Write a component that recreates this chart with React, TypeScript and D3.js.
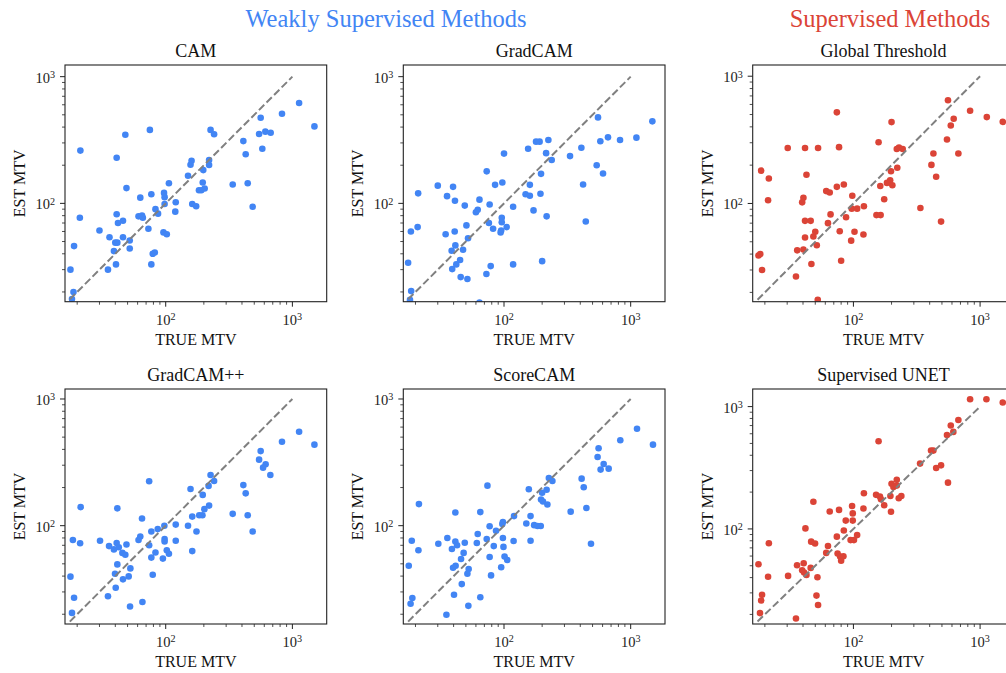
import { useEffect, useRef } from 'react';
import * as d3 from 'd3';

// titles
const groupTitles = ["Weakly Supervised Methods", "Supervised Methods"];
const panelTitles = ["CAM", "GradCAM", "Global Threshold", "GradCAM++", "ScoreCAM", "Supervised UNET"];
const xLabel = "TRUE MTV";
const yLabel = "EST MTV";
const majorTicks = [100, 1000];
const identityLine = [17.5, 1000];

// [true MTV, est MTV]
const camPoints = [
    [1130, 620], [1493, 405], [828, 510], [562, 474], [546, 353], [612, 368], [674, 361], [410, 310],
    [428, 244], [579, 270], [338, 141], [444, 144], [486, 94], [226, 380], [241, 351], [160, 217],
    [157, 202], [150, 165], [220, 220], [220, 201], [198, 183], [196, 146], [203, 131], [183, 127],
    [191, 127], [162, 99], [174, 95], [106, 144], [120, 102], [119, 86], [97, 121], [98, 112],
    [98, 99], [75, 380], [48, 348], [41, 229], [21.2, 261], [49, 132], [77, 118], [63, 111],
    [83, 90], [87, 83], [61, 79], [65, 80], [66, 77], [41, 82], [46, 73], [42, 70], [21, 77],
    [30, 61], [36, 54], [46, 54], [40, 49], [41.5, 49], [52, 51], [52, 44], [39, 42], [73, 63],
    [96, 59], [102, 57], [18.9, 46], [82, 41], [79, 40], [40.5, 33], [35, 30], [77, 33],
    [17.7, 30], [18.7, 20], [18.2, 17.6]
];

const gradcamPoints = [
    [1483, 444], [1110, 330], [824, 316], [662, 332], [552, 477], [576, 309], [539, 200], [605, 172],
    [408, 275], [332, 236], [421, 141], [442, 72], [224, 316], [191, 307], [179, 307], [155, 270],
    [215, 249], [238, 220], [196, 171], [160, 140], [148, 118], [160, 115], [194, 119], [171, 88],
    [217, 79], [200, 35], [118, 33], [100, 247], [97, 146], [85, 140], [73, 179], [118, 94],
    [77, 98], [64, 107], [62, 89], [60, 85], [96, 77], [96, 71], [76, 70], [105, 65], [82, 63],
    [95, 61], [94, 59], [49, 96], [41, 105], [35.5, 114], [39.6, 135], [30, 138], [21, 120],
    [20.8, 65], [18.4, 60], [34.6, 57], [40.8, 60], [50.5, 67], [52, 53], [41.3, 46.6], [38.6, 42.3],
    [47.5, 43], [42, 33], [45, 35.7], [39, 30.3], [45.5, 26.2], [51.4, 25.3], [72.6, 27.7],
    [78.5, 32], [17.5, 34], [18.5, 20.3], [18.1, 17.3], [64, 16.5]
];

const globalThresholdPoints = [
    [1510, 438], [1130, 477], [834, 535], [558, 647], [619, 463], [587, 410], [548, 318], [674, 247],
    [428, 247], [413, 201], [450, 162], [338, 92], [492, 72], [200, 436], [158, 303], [229, 275],
    [220, 268], [245, 268], [198, 179], [222, 191], [195, 152], [184, 145], [203, 139], [163, 137],
    [175, 108], [152, 81], [164, 81], [121, 95], [98, 115], [97, 91], [107, 91], [102, 60],
    [120, 57], [96, 51], [74, 520], [77, 277], [52.6, 273], [41.5, 273], [30.3, 273], [18.7, 181],
    [21.5, 157], [21.2, 106], [42.6, 168], [40.3, 111], [39.4, 102], [74, 135], [84, 141], [61, 125],
    [65, 122], [87.5, 78], [66, 82], [63, 70], [41.5, 73], [46, 73], [41.5, 54], [50, 60],
    [48.3, 55], [78, 60.5], [51.4, 47], [36, 42.8], [40.3, 43.4], [46.6, 33.4], [80, 35.5],
    [17.8, 39], [18.4, 40], [19, 30], [35.2, 26.7], [52.3, 17.5]
];

const gradcamPPPoints = [
    [1493, 436], [1130, 552], [828, 460], [562, 388], [546, 332], [615, 305], [587, 287], [670, 251],
    [410, 209], [428, 180], [338, 124], [444, 121], [486, 90], [226, 251], [241, 225], [218, 206],
    [196, 175], [157, 195], [220, 144], [202, 135], [162, 118], [184, 121], [195, 121], [150, 100],
    [175, 90], [162, 63], [120, 102], [120, 76], [97.6, 100], [98, 78.5], [98, 75], [102, 64],
    [106, 60], [95, 55], [83, 61.5], [86.5, 94], [77, 90], [74, 70], [77, 56], [79, 41], [74, 224],
    [65, 114], [63, 82], [61, 77], [41.5, 137], [21.3, 140], [18.5, 77], [21.1, 72.6], [30.3, 76],
    [35.7, 69], [41, 73], [39, 65], [42.6, 67.5], [49, 71], [45.5, 61], [48, 59], [41.5, 49.5],
    [39.8, 41.8], [52.6, 46], [51, 39.8], [46, 37.7], [40.3, 32.4], [35, 27.7], [52.3, 23],
    [65.5, 25], [17.7, 39.6], [18.9, 27], [18.2, 20.5]
];

const scorecamPoints = [
    [1500, 436], [1122, 583], [828, 472], [558, 408], [548, 348], [612, 307], [579, 277], [670, 282],
    [410, 235], [426, 201], [336, 129], [447, 138], [486, 72], [226, 238], [241, 225], [217, 192],
    [157, 194], [200, 182], [196, 161], [203, 155], [220, 147], [162, 119], [150, 104], [120, 119],
    [173, 101], [184, 99.4], [195, 99.4], [162, 76], [119, 75.7], [98, 107], [97, 103], [98, 80],
    [99, 68], [101, 57], [106, 53.6], [95, 47], [86.5, 91], [77, 99], [73, 78.5], [83, 69],
    [77, 56.6], [79, 40.5], [74, 207], [65, 128], [62, 86], [61, 73], [41.3, 127], [21.3, 148],
    [18.7, 76], [21.1, 64], [30.3, 72], [35.7, 80], [41.3, 75], [42.6, 70], [49, 73.4], [38.8, 65.5],
    [48, 61], [45.8, 54.6], [41.5, 48.3], [39.6, 46.6], [52.6, 45.5], [51.4, 41.8], [46.4, 34.6],
    [40.3, 28.5], [65, 27.2], [52.3, 23.3], [35.1, 19.8], [17.7, 48.3], [18.9, 26.9], [18.3, 24.2]
];

const unetPoints = [
    [834, 1148], [1122, 1148], [1510, 1079], [674, 778], [587, 700], [615, 621], [548, 586], [410, 437],
    [428, 437], [336, 342], [492, 331], [450, 315], [558, 239], [158, 521], [220, 252], [200, 234],
    [207, 220], [220, 226], [151, 190], [162, 184], [165, 175], [196, 186], [239, 186], [228, 178],
    [175, 156], [198, 138], [121, 196], [120, 147], [97.6, 154], [98.8, 134], [98.8, 117], [87, 117],
    [84, 97], [107, 89], [101, 81], [95, 81], [77, 143], [65, 139], [74, 86.5], [75, 63], [78.5, 59.4],
    [80, 55], [83.4, 59.8], [63, 72.6], [61, 63.7], [48.3, 167], [41.8, 101], [46.4, 78.7],
    [49.8, 75.9], [21.5, 76.3], [17.8, 51.4], [21.2, 40.6], [30.5, 41.3], [35.9, 50.5], [40.5, 52.4],
    [39.4, 45.9], [40.8, 44], [42.6, 42.1], [46, 48], [52, 40.3], [51.1, 28.5], [52.6, 23.9],
    [19, 28.9], [18.7, 26], [18.3, 20.5], [35.2, 18.5]
];

export default function App() {
    const ref = useRef<SVGSVGElement>(null);

    useEffect(() => {
        const svg = d3.select(ref.current);
        svg.selectAll("*").remove();

        const font = "'Liberation Serif', 'Times New Roman', serif";
        const blue = "#4285f4";
        const red = "#db4437";

        // layout
        const colLeft = [65, 403.3, 752.7];
        const rowTop = [65, 389];
        const axW = 261.7;
        const axH = [236.7, 235];
        const xDomain = [16.03, 1866];

        const panels = [
            { title: panelTitles[0], data: camPoints, color: blue, col: 0, row: 0, yDomain: [16.75, 1236] },
            { title: panelTitles[1], data: gradcamPoints, color: blue, col: 1, row: 0, yDomain: [16.75, 1236] },
            { title: panelTitles[2], data: globalThresholdPoints, color: red, col: 2, row: 0, yDomain: [16.9, 1225] },
            { title: panelTitles[3], data: gradcamPPPoints, color: blue, col: 0, row: 1, yDomain: [16.75, 1199] },
            { title: panelTitles[4], data: scorecamPoints, color: blue, col: 1, row: 1, yDomain: [16.75, 1199] },
            { title: panelTitles[5], data: unetPoints, color: red, col: 2, row: 1, yDomain: [16.7, 1393] }
        ];

        // group titles
        svg.append("text")
            .attr("x", 386).attr("y", 27)
            .attr("text-anchor", "middle")
            .attr("font-family", font).attr("font-size", 24.5)
            .attr("fill", blue)
            .text(groupTitles[0]);
        svg.append("text")
            .attr("x", 890).attr("y", 27)
            .attr("text-anchor", "middle")
            .attr("font-family", font).attr("font-size", 24.5)
            .attr("fill", red)
            .text(groupTitles[1]);

        const minorTicks = (domain) => {
            const out = [];
            for (let p = 1; p <= 3; p++) {
                for (let m = 2; m <= 9; m++) {
                    const v = m * Math.pow(10, p);
                    if (v >= domain[0] && v <= domain[1]) out.push(v);
                }
            }
            return out;
        };

        const tickLabel = (sel, v) => {
            sel.append("tspan").text("10");
            sel.append("tspan")
                .attr("dy", "-0.45em")
                .attr("font-size", "70%")
                .text(String(Math.round(Math.log10(v))));
        };

        panels.forEach((p, i) => {
            const left = colLeft[p.col];
            const top = rowTop[p.row];
            const h = axH[p.row];

            const x = d3.scaleLog().domain(xDomain).range([left, left + axW]);
            const y = d3.scaleLog().domain(p.yDomain).range([top + h, top]);

            const g = svg.append("g");

            const clipId = "clip-" + i;
            svg.append("clipPath").attr("id", clipId)
                .append("rect")
                .attr("x", left).attr("y", top)
                .attr("width", axW).attr("height", h);

            const plot = g.append("g").attr("clip-path", "url(#" + clipId + ")");

            // dots
            plot.selectAll("circle")
                .data(p.data).enter()
                .append("circle")
                .attr("cx", d => x(d[0]))
                .attr("cy", d => y(d[1]))
                .attr("r", 3.3)
                .attr("fill", p.color);

            // identity line
            plot.append("line")
                .attr("x1", x(identityLine[0])).attr("y1", y(identityLine[0]))
                .attr("x2", x(identityLine[1])).attr("y2", y(identityLine[1]))
                .attr("stroke", "#808080")
                .attr("stroke-width", 2)
                .attr("stroke-dasharray", "7.5,3.2");

            // ticks
            const axisColor = "#222";
            const bottom = top + h;
            majorTicks.filter(v => v >= xDomain[0] && v <= xDomain[1]).forEach(v => {
                g.append("line")
                    .attr("x1", x(v)).attr("x2", x(v))
                    .attr("y1", bottom).attr("y2", bottom + 5)
                    .attr("stroke", axisColor).attr("stroke-width", 1);
                const t = g.append("text")
                    .attr("x", x(v)).attr("y", bottom + 23)
                    .attr("text-anchor", "middle")
                    .attr("font-family", font).attr("font-size", 14.5)
                    .attr("fill", axisColor);
                tickLabel(t, v);
            });
            minorTicks(xDomain).forEach(v => {
                g.append("line")
                    .attr("x1", x(v)).attr("x2", x(v))
                    .attr("y1", bottom).attr("y2", bottom + 3)
                    .attr("stroke", axisColor).attr("stroke-width", 0.8);
            });
            majorTicks.filter(v => v >= p.yDomain[0] && v <= p.yDomain[1]).forEach(v => {
                g.append("line")
                    .attr("x1", left - 5).attr("x2", left)
                    .attr("y1", y(v)).attr("y2", y(v))
                    .attr("stroke", axisColor).attr("stroke-width", 1);
                const t = g.append("text")
                    .attr("x", left - 10).attr("y", y(v) + 6)
                    .attr("text-anchor", "end")
                    .attr("font-family", font).attr("font-size", 14.5)
                    .attr("fill", axisColor);
                tickLabel(t, v);
            });
            minorTicks(p.yDomain).forEach(v => {
                g.append("line")
                    .attr("x1", left - 3).attr("x2", left)
                    .attr("y1", y(v)).attr("y2", y(v))
                    .attr("stroke", axisColor).attr("stroke-width", 0.8);
            });

            // frame
            g.append("rect")
                .attr("x", left).attr("y", top)
                .attr("width", axW).attr("height", h)
                .attr("fill", "none")
                .attr("stroke", axisColor).attr("stroke-width", 1.1);

            // titles and labels
            g.append("text")
                .attr("x", left + axW / 2).attr("y", top - 8)
                .attr("text-anchor", "middle")
                .attr("font-family", font).attr("font-size", 18)
                .attr("fill", "#111")
                .text(p.title);
            g.append("text")
                .attr("x", left + axW / 2).attr("y", bottom + 43)
                .attr("text-anchor", "middle")
                .attr("font-family", font).attr("font-size", 16)
                .attr("fill", "#111")
                .text(xLabel);
            g.append("text")
                .attr("transform", "translate(" + (left - 40) + "," + (top + h / 2) + ") rotate(-90)")
                .attr("text-anchor", "middle")
                .attr("font-family", font).attr("font-size", 16)
                .attr("fill", "#111")
                .text(yLabel);
        });
    }, []);

    return (
        <svg ref={ref} width={1006} height={673}
            style={{ position: "absolute", left: 0, top: 0, background: "#fff" }} />
    );
}
